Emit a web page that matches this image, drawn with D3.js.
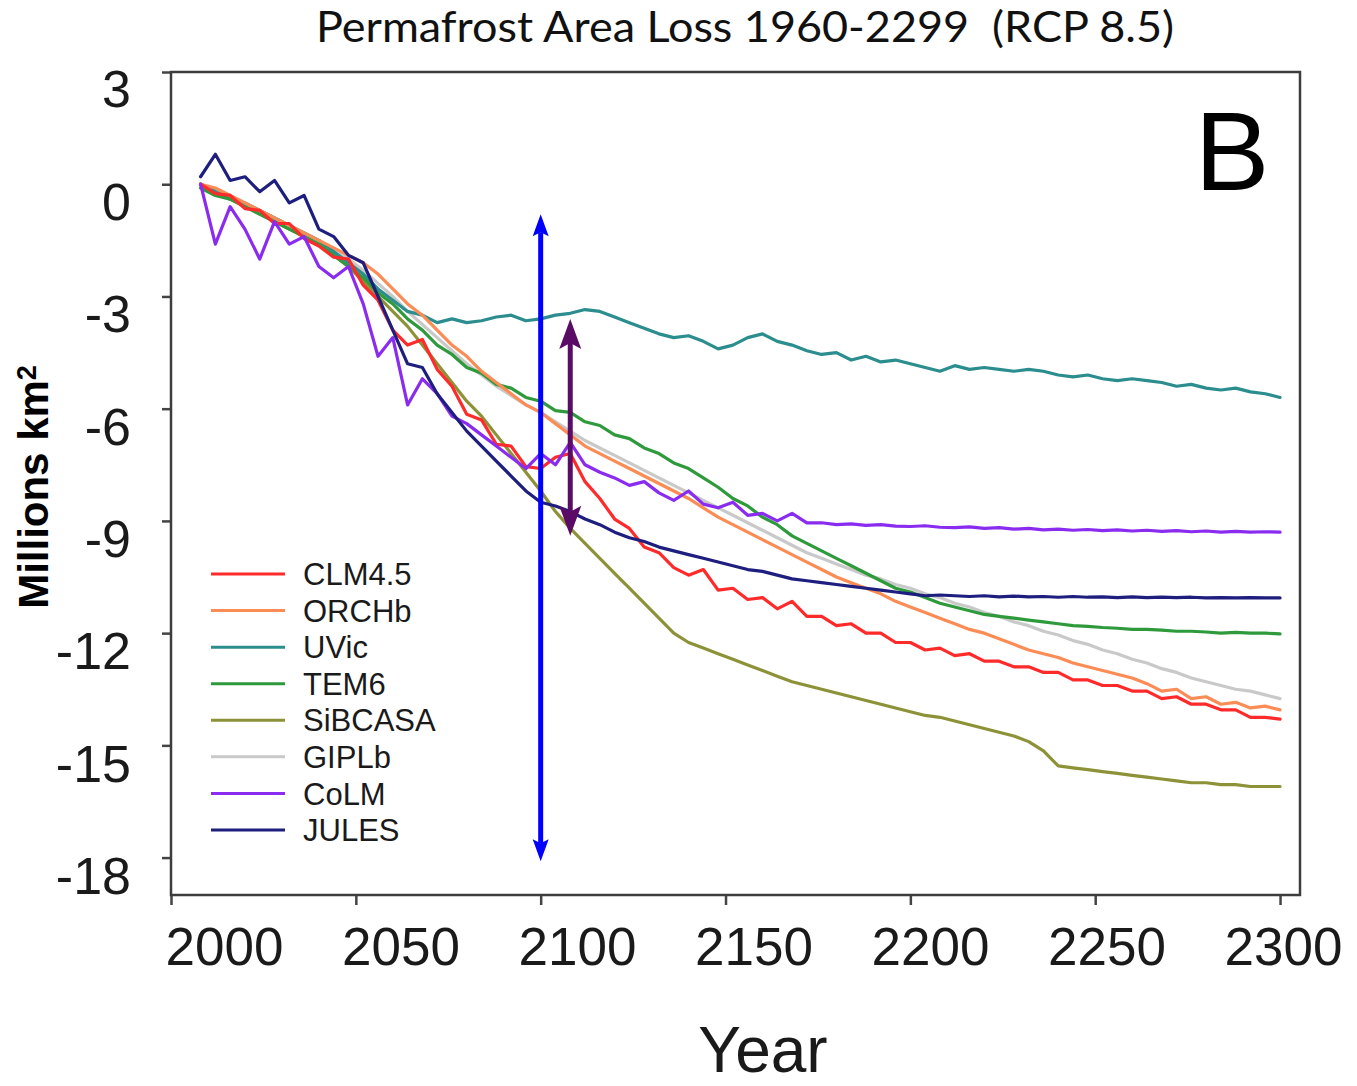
<!DOCTYPE html>
<html>
<head>
<meta charset="utf-8">
<script src="https://cdn.jsdelivr.net/npm/d3@7"></script>
<style>
  body { margin: 0; background: #fff; }
  text { font-family: "Liberation Sans", Arial, sans-serif; }
</style>
</head>
<body>
<svg id="chart" width="1357" height="1086"></svg>
<script>
// Simulated permafrost area change (millions km², relative to start), RCP 8.5
const years = d3.range(2008, 2301, 4);

const CLM45 = [0.0,-0.25,-0.3,-0.65,-0.7,-1.05,-1.05,-1.45,-1.65,-1.95,-2.0,-2.7,-3.1,-3.9,-4.3,-4.15,-4.95,-5.4,-6.15,-6.3,-6.95,-7.0,-7.55,-7.6,-7.3,-7.2,-7.95,-8.4,-8.95,-9.2,-9.7,-9.85,-10.25,-10.45,-10.3,-10.85,-10.8,-11.1,-11.05,-11.35,-11.15,-11.55,-11.55,-11.8,-11.75,-12.0,-12.0,-12.25,-12.25,-12.45,-12.4,-12.6,-12.55,-12.75,-12.75,-12.9,-12.9,-13.05,-13.05,-13.25,-13.25,-13.4,-13.4,-13.55,-13.55,-13.75,-13.7,-13.9,-13.9,-14.05,-14.05,-14.25,-14.25,-14.3];
const ORCHb = [0.0,-0.1,-0.3,-0.5,-0.7,-0.9,-1.1,-1.3,-1.5,-1.7,-1.9,-2.1,-2.4,-2.8,-3.2,-3.5,-3.9,-4.3,-4.6,-5.0,-5.3,-5.6,-5.9,-6.1,-6.4,-6.7,-7.0,-7.2,-7.4,-7.6,-7.8,-8.0,-8.2,-8.4,-8.65,-8.9,-9.1,-9.3,-9.5,-9.7,-9.9,-10.1,-10.3,-10.5,-10.65,-10.8,-10.95,-11.15,-11.3,-11.45,-11.6,-11.75,-11.9,-12.0,-12.15,-12.3,-12.45,-12.55,-12.65,-12.8,-12.9,-13.0,-13.1,-13.2,-13.35,-13.55,-13.5,-13.75,-13.7,-13.9,-13.85,-14.0,-13.95,-14.05];
const UVic = [0.0,-0.2,-0.4,-0.5,-0.7,-0.9,-1.1,-1.3,-1.5,-1.8,-2.1,-2.4,-2.8,-3.1,-3.4,-3.5,-3.7,-3.6,-3.7,-3.65,-3.55,-3.5,-3.65,-3.6,-3.5,-3.45,-3.35,-3.4,-3.55,-3.7,-3.85,-4.0,-4.1,-4.05,-4.2,-4.4,-4.3,-4.1,-4.0,-4.2,-4.3,-4.45,-4.55,-4.5,-4.7,-4.6,-4.75,-4.7,-4.8,-4.9,-5.0,-4.85,-4.95,-4.9,-4.95,-5.0,-4.95,-5.0,-5.1,-5.15,-5.1,-5.2,-5.25,-5.2,-5.25,-5.3,-5.4,-5.35,-5.45,-5.5,-5.45,-5.55,-5.6,-5.7];
const TEM6 = [-0.1,-0.3,-0.4,-0.6,-0.8,-1.0,-1.2,-1.4,-1.6,-1.9,-2.2,-2.5,-2.9,-3.2,-3.6,-3.9,-4.3,-4.55,-4.9,-5.05,-5.35,-5.45,-5.7,-5.8,-6.05,-6.1,-6.35,-6.45,-6.7,-6.8,-7.05,-7.2,-7.45,-7.6,-7.85,-8.1,-8.4,-8.6,-8.9,-9.1,-9.4,-9.6,-9.8,-10.0,-10.2,-10.4,-10.6,-10.8,-10.9,-11.05,-11.2,-11.3,-11.4,-11.5,-11.55,-11.6,-11.65,-11.7,-11.75,-11.8,-11.82,-11.85,-11.87,-11.9,-11.9,-11.92,-11.95,-11.95,-11.97,-12.0,-11.98,-12.0,-12.0,-12.02];
const SiBCASA = [0.0,-0.2,-0.4,-0.6,-0.8,-1.0,-1.2,-1.4,-1.6,-1.9,-2.2,-2.6,-3.0,-3.4,-3.8,-4.3,-4.8,-5.3,-5.8,-6.2,-6.7,-7.2,-7.7,-8.2,-8.75,-9.2,-9.6,-10.0,-10.4,-10.8,-11.2,-11.6,-12.0,-12.25,-12.4,-12.55,-12.7,-12.85,-13.0,-13.15,-13.3,-13.4,-13.5,-13.6,-13.7,-13.8,-13.9,-14.0,-14.1,-14.2,-14.25,-14.35,-14.45,-14.55,-14.65,-14.75,-14.9,-15.15,-15.55,-15.6,-15.65,-15.7,-15.75,-15.8,-15.85,-15.9,-15.95,-16.0,-16.0,-16.05,-16.05,-16.1,-16.1,-16.1];
const GIPLb = [0.0,-0.15,-0.3,-0.5,-0.7,-0.9,-1.1,-1.3,-1.5,-1.75,-2.0,-2.3,-2.65,-3.0,-3.4,-3.75,-4.1,-4.45,-4.8,-5.1,-5.4,-5.65,-5.9,-6.1,-6.35,-6.6,-6.85,-7.05,-7.25,-7.45,-7.65,-7.85,-8.05,-8.25,-8.45,-8.65,-8.85,-9.05,-9.25,-9.45,-9.65,-9.85,-10.0,-10.15,-10.3,-10.45,-10.55,-10.7,-10.8,-10.95,-11.05,-11.2,-11.3,-11.45,-11.55,-11.7,-11.8,-11.95,-12.05,-12.2,-12.3,-12.45,-12.55,-12.7,-12.8,-12.95,-13.05,-13.2,-13.3,-13.4,-13.5,-13.55,-13.65,-13.75];
const CoLM = [0.0,-1.6,-0.6,-1.2,-2.0,-1.0,-1.6,-1.4,-2.2,-2.5,-2.2,-3.2,-4.6,-4.1,-5.9,-5.2,-5.6,-6.2,-6.4,-6.7,-7.0,-7.3,-7.6,-7.2,-7.5,-6.9,-7.5,-7.7,-7.85,-8.05,-7.95,-8.25,-8.45,-8.2,-8.55,-8.65,-8.5,-8.85,-8.8,-9.0,-8.8,-9.05,-9.05,-9.1,-9.08,-9.12,-9.1,-9.14,-9.15,-9.13,-9.17,-9.18,-9.16,-9.2,-9.18,-9.22,-9.2,-9.24,-9.22,-9.25,-9.23,-9.26,-9.24,-9.27,-9.25,-9.28,-9.26,-9.29,-9.27,-9.3,-9.28,-9.3,-9.29,-9.3];
const JULES = [0.2,0.8,0.1,0.2,-0.2,0.1,-0.5,-0.3,-1.2,-1.4,-1.9,-2.1,-3.0,-3.9,-4.8,-4.9,-5.6,-6.1,-6.6,-7.0,-7.4,-7.8,-8.2,-8.5,-8.6,-8.75,-8.95,-9.1,-9.3,-9.45,-9.55,-9.7,-9.8,-9.9,-10.0,-10.1,-10.2,-10.3,-10.35,-10.45,-10.55,-10.6,-10.65,-10.7,-10.75,-10.8,-10.85,-10.9,-10.95,-11.0,-10.98,-11.0,-11.02,-11.0,-11.03,-11.01,-11.03,-11.02,-11.04,-11.02,-11.04,-11.03,-11.05,-11.03,-11.05,-11.04,-11.05,-11.04,-11.06,-11.05,-11.06,-11.05,-11.06,-11.06];

// Legend order and colours
const modelNames  = ["CLM4.5", "ORCHb", "UVic", "TEM6", "SiBCASA", "GIPLb", "CoLM", "JULES"];
const modelValues = [CLM45, ORCHb, UVic, TEM6, SiBCASA, GIPLb, CoLM, JULES];
const modelColors = ["#ff2a2a", "#fb8c55", "#2b8d8d", "#2e9a3c", "#8d9238", "#c9c9c9", "#8a2cf0", "#1e1e7e"];
// Drawing order (back to front), as indices into the lists above
const drawOrder = [5, 4, 2, 3, 1, 0, 6, 7];

// Axis ticks
const xTickValues = [2000, 2050, 2100, 2150, 2200, 2250, 2300];
const yTickValues = [3, 0, -3, -6, -9, -12, -15, -18];

// Spread markers at year 2100 (all models) and 2108 (excluding UVic/SiBCASA)
const spreadYears  = [2100, 2108];
const spreadTop    = [-0.8, -3.6];
const spreadBottom = [-18.1, -9.4];
const spreadColors = ["#0000ff", "#5a0b66"];

const svg = d3.select("#chart");

const x = d3.scaleLinear().domain([2000, 2305.4]).range([171, 1300]);
const y = d3.scaleLinear().domain([-19, 3]).range([895, 72]);
// Tick labels sit on their own, slightly offset scales
const xLab = d3.scaleLinear().domain([2000, 2300]).range([224, 1283]);
const yLab = d3.scaleLinear().domain([-18, 3]).range([875, 88]);

// Title
svg.append("text")
  .attr("x", 745).attr("y", 42)
  .attr("text-anchor", "middle")
  .attr("textLength", 858).attr("lengthAdjust", "spacingAndGlyphs")
  .style("font-family", "Lato, 'Open Sans', sans-serif")
  .style("font-size", "42px").attr("fill", "#111")
  .text("Permafrost Area Loss 1960-2299 \u00a0(RCP 8.5)");

// Tick marks
const gx = svg.append("g").attr("transform", "translate(0,895)")
  .call(d3.axisBottom(x).tickValues(xTickValues).tickSize(10).tickSizeOuter(0).tickFormat(""));
gx.select(".domain").remove();
gx.selectAll(".tick line").attr("stroke", "#444").attr("stroke-width", 2.5);

const gy = svg.append("g").attr("transform", "translate(171,0)")
  .call(d3.axisLeft(y).tickValues(yTickValues).tickSize(9).tickSizeOuter(0).tickFormat(""));
gy.select(".domain").remove();
gy.selectAll(".tick line").attr("stroke", "#444").attr("stroke-width", 2.5);

// Tick labels
const gxl = svg.append("g").attr("transform", "translate(0,965)")
  .call(d3.axisBottom(xLab).tickValues(xTickValues).tickSize(0).tickFormat(d3.format("d")));
gxl.select(".domain").remove();
gxl.selectAll("text").attr("dy", null).attr("y", 0)
  .style("font-size", "53px").attr("fill", "#1a1a1a");

const gyl = svg.append("g").attr("transform", "translate(131,0)")
  .call(d3.axisLeft(yLab).tickValues(yTickValues).tickSize(0).tickFormat(d => d < 0 ? "-" + Math.abs(d) : String(d)));
gyl.select(".domain").remove();
gyl.selectAll("text").attr("x", 0).attr("dy", "0.36em")
  .style("font-size", "52px").attr("fill", "#1a1a1a");

// Plot frame
svg.append("rect")
  .attr("x", x(2000)).attr("y", y(3))
  .attr("width", x(2305.4) - x(2000)).attr("height", y(-19) - y(3))
  .attr("fill", "none").attr("stroke", "#3d3d3d").attr("stroke-width", 2.5);

// Model lines
const line = d3.line()
  .x((d, i) => x(years[i]))
  .y(d => y(d));

svg.append("g").selectAll("path")
  .data(drawOrder)
  .join("path")
  .attr("d", k => line(modelValues[k]))
  .attr("fill", "none")
  .attr("stroke", k => modelColors[k])
  .attr("stroke-width", 3.2)
  .attr("stroke-linejoin", "round")
  .attr("stroke-linecap", "round");

// Panel letter
svg.append("text")
  .attr("x", 1232).attr("y", 190)
  .attr("text-anchor", "middle")
  .style("font-size", "112px").attr("fill", "#000")
  .text("B");

// Legend
const legend = svg.append("g");
const legY = d3.scaleLinear().domain([0, 7]).range([574, 830]);
modelNames.forEach((name, i) => {
  legend.append("line")
    .attr("x1", 211).attr("x2", 285)
    .attr("y1", legY(i)).attr("y2", legY(i))
    .attr("stroke", modelColors[i]).attr("stroke-width", 3);
  legend.append("text")
    .attr("x", 303).attr("y", legY(i)).attr("dy", "0.36em")
    .style("font-size", "31px").attr("fill", "#1a1a1a")
    .text(name);
});

// Spread arrows
spreadYears.forEach((yr, i) => {
  const ax = x(yr);
  const top = y(spreadTop[i]);
  const bot = y(spreadBottom[i]);
  const col = spreadColors[i];
  const hw = i === 0 ? 8 : 11;   // head half-width
  const hl = i === 0 ? 22 : 30;  // head length
  const notch = i === 0 ? 4 : 6;
  svg.append("line")
    .attr("x1", ax).attr("x2", ax)
    .attr("y1", top + hl - notch).attr("y2", bot - hl + notch)
    .attr("stroke", col).attr("stroke-width", 5);
  svg.append("path")
    .attr("d", `M${ax},${top} L${ax + hw},${top + hl} L${ax},${top + hl - notch} L${ax - hw},${top + hl} Z`)
    .attr("fill", col);
  svg.append("path")
    .attr("d", `M${ax},${bot} L${ax + hw},${bot - hl} L${ax},${bot - hl + notch} L${ax - hw},${bot - hl} Z`)
    .attr("fill", col);
});

// Axis titles
svg.append("text")
  .attr("x", 763).attr("y", 1072)
  .attr("text-anchor", "middle")
  .style("font-size", "64px").attr("fill", "#1a1a1a")
  .text("Year");

const yt = svg.append("text")
  .attr("transform", "translate(48,487) rotate(-90)")
  .attr("text-anchor", "middle")
  .style("font-size", "42px").style("font-weight", "bold").attr("fill", "#000");
yt.append("tspan").text("Millions km");
yt.append("tspan").attr("dy", "-0.45em").style("font-size", "27px").text("2");
</script>
</body>
</html>
